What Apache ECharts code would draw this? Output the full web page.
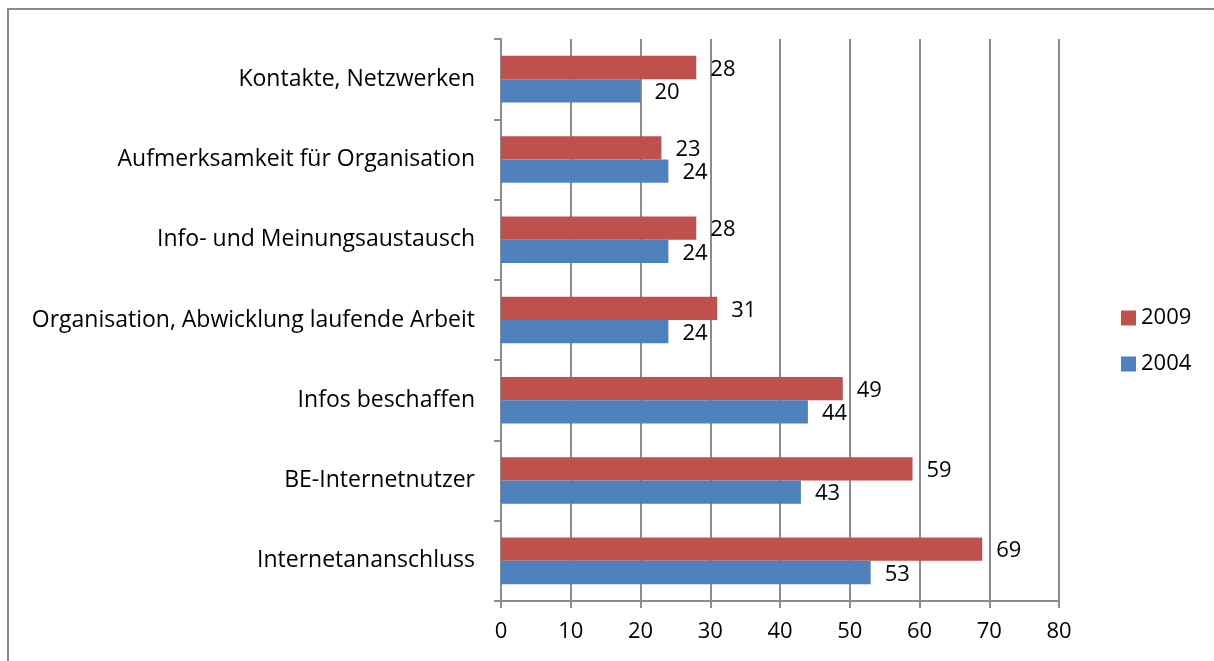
<!DOCTYPE html>
<html>
<head>
<meta charset="utf-8">
<script src="https://cdn.jsdelivr.net/npm/echarts@6/dist/echarts.min.js"></script>
<style>
  html, body { margin: 0; padding: 0; background: #fff; }
  #chart { width: 1214px; height: 661px; }
</style>
</head>
<body>
<div id="chart"></div>
<script>
// Kategorien von unten nach oben
const categories = [
  'Internetananschluss',
  'BE-Internetnutzer',
  'Infos beschaffen',
  'Organisation, Abwicklung laufende Arbeit',
  'Info- und Meinungsaustausch',
  'Aufmerksamkeit für Organisation',
  'Kontakte, Netzwerken'
]
const values2009 = [69, 59, 49, 31, 28, 23, 28]
const values2004 = [53, 43, 44, 24, 24, 24, 20]
const xTicks = { min: 0, max: 80, interval: 10 }

const font = 'Open Sans'
const gridColor = '#8c8c8c'

const chart = echarts.init(document.getElementById('chart'))

const labelStyle = {
  show: true,
  position: 'right',
  distance: 14,
  offset: [0, 2],
  color: '#000',
  fontSize: 22,
  fontFamily: font
}

chart.setOption({
  animation: false,
  graphic: [{
    type: 'rect',
    shape: { x: 8, y: 9, width: 1230, height: 700 },
    style: { fill: 'none', stroke: '#8a8a8a', lineWidth: 2 }
  }],
  grid: { left: 501, right: 155, top: 39, bottom: 60 },
  legend: {
    data: ['2009', '2004'],
    orient: 'vertical',
    left: 1116,
    top: 302,
    itemWidth: 15,
    itemHeight: 15,
    itemGap: 24,
    icon: 'rect',
    textStyle: { fontSize: 22, fontFamily: font, color: '#000' }
  },
  xAxis: {
    type: 'value',
    min: xTicks.min,
    max: xTicks.max,
    interval: xTicks.interval,
    axisLine: { show: true, lineStyle: { color: gridColor, width: 2 } },
    axisTick: { show: true, length: 7, lineStyle: { color: gridColor, width: 2 } },
    splitLine: { show: true, lineStyle: { color: gridColor, width: 2 } },
    axisLabel: { color: '#000', fontSize: 22, fontFamily: font, margin: 20 }
  },
  yAxis: {
    type: 'category',
    data: categories,
    axisLine: { show: true, lineStyle: { color: gridColor, width: 2 } },
    axisTick: { show: true, length: 7, lineStyle: { color: gridColor, width: 2 } },
    axisLabel: { color: '#000', fontSize: 23, fontFamily: font, margin: 26 }
  },
  series: [
    {
      name: '2009',
      type: 'bar',
      data: values2009,
      barGap: '0%',
      barCategoryGap: '42%',
      itemStyle: { color: '#C0504D' },
      label: labelStyle
    },
    {
      name: '2004',
      type: 'bar',
      data: values2004,
      barGap: '0%',
      barCategoryGap: '42%',
      itemStyle: { color: '#4F81BD' },
      label: labelStyle
    }
  ]
})
</script>
</body>
</html>
